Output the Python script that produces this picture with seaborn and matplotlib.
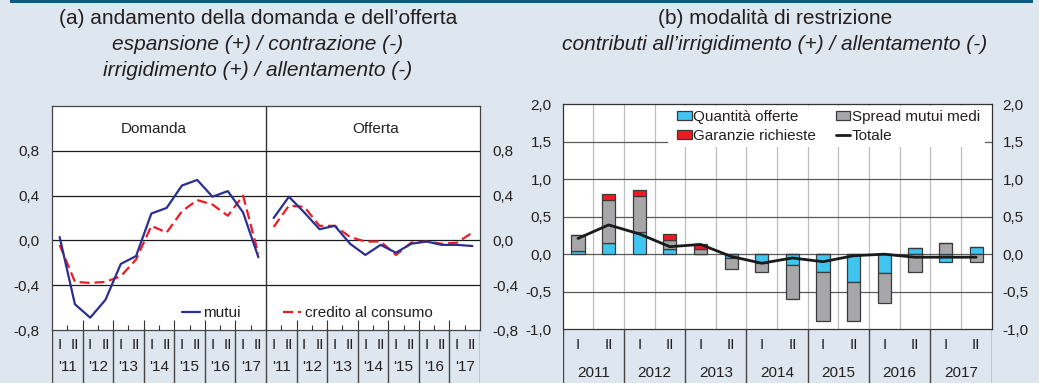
import numpy as np
import pandas as pd
import matplotlib
matplotlib.use("Agg")
import matplotlib.pyplot as plt
from matplotlib.patches import Rectangle, Patch
from matplotlib.lines import Line2D
import seaborn as sns

# ---- panel (a): demand and supply, half-yearly 2011-2017 ----
anni_brevi = ["'11", "'12", "'13", "'14", "'15", "'16", "'17"]
semestri = ["I", "II"]
domanda_mutui = [0.03, -0.57, -0.69, -0.53, -0.21, -0.14, 0.24, 0.29, 0.49, 0.54, 0.39, 0.44, 0.25, -0.15]
domanda_credito = [-0.04, -0.37, -0.38, -0.37, -0.32, -0.17, 0.13, 0.07, 0.26, 0.36, 0.32, 0.22, 0.40, -0.12]
offerta_mutui = [0.20, 0.39, 0.25, 0.10, 0.13, -0.03, -0.13, -0.04, -0.11, -0.03, -0.01, -0.04, -0.04, -0.05]
offerta_credito = [0.12, 0.31, 0.30, 0.13, 0.13, 0.03, -0.01, -0.01, -0.13, -0.02, -0.01, -0.03, -0.02, 0.07]
yticks_a = [-0.8, -0.4, 0.0, 0.4, 0.8]

# ---- panel (b): contributions to tightening / easing ----
anni = ["2011", "2012", "2013", "2014", "2015", "2016", "2017"]
quantita_offerte = [0.04, 0.15, 0.29, 0.07, 0.0, -0.05, -0.115, -0.145, -0.235, -0.375, -0.25, 0.085, -0.105, 0.10]
spread_mutui = [0.21, 0.57, 0.48, 0.125, 0.075, -0.15, -0.12, -0.455, -0.655, -0.515, -0.395, -0.235, 0.155, -0.105]
garanzie_richieste = [0.0, 0.08, 0.09, 0.08, 0.055, 0.0, 0.0, 0.0, 0.0, 0.0, 0.0, 0.0, 0.0, 0.0]
totale = [0.21, 0.39, 0.27, 0.10, 0.13, -0.03, -0.12, -0.05, -0.10, -0.02, 0.0, -0.04, -0.04, -0.04]
yticks_b = [-1.0, -0.5, 0.0, 0.5, 1.0, 1.5, 2.0]

BG = "#dee7f0"
TXT = "#231f20"
BLU = "#2b2f8f"
ROSSO = "#ed1c24"
CIANO = "#40c4f0"
GRIGIO = "#a7a7a9"
BORDO = "#3a3a3a"

sns.set_theme(style="white")
plt.rcParams["font.family"] = ["Liberation Sans", "DejaVu Sans"]
plt.rcParams["text.color"] = TXT
plt.rcParams["xtick.color"] = TXT
plt.rcParams["ytick.color"] = TXT

W, H = 1039, 383
fig = plt.figure(figsize=(W / 100, H / 100), dpi=100, facecolor=BG)


def fx(px):
    return px / W


def fy(py):
    return 1 - py / H


def comma(v):
    return f"{v:.1f}".replace(".", ",")


# top rule
fig.add_artist(Rectangle((fx(10), fy(2.5)), fx(1023), 2.5 / H, transform=fig.transFigure,
                         facecolor="#0b5c80", edgecolor="none"))

# titles
fig.text(fx(258), fy(18), "(a) andamento della domanda e dell\u2019offerta", ha="center", va="center", fontsize=15)
fig.text(fx(258), fy(44), "espansione (+) / contrazione (-)", ha="center", va="center", fontsize=15, style="italic")
fig.text(fx(258), fy(70), "irrigidimento (+) / allentamento (-)", ha="center", va="center", fontsize=15, style="italic")
fig.text(fx(775), fy(18), "(b) modalit\u00e0 di restrizione", ha="center", va="center", fontsize=15)
fig.text(fx(775), fy(44), "contributi all\u2019irrigidimento (+) / allentamento (-)", ha="center", va="center",
         fontsize=15, style="italic")

# ================= panel (a) =================
n = len(domanda_mutui)
axa = fig.add_axes([fx(52), fy(330), fx(428), 224 / H])
axa.set_facecolor("white")
xa = np.arange(2 * n)
df_a = pd.DataFrame({
    "x": xa,
    "mutui": domanda_mutui + offerta_mutui,
    "credito": domanda_credito + offerta_credito,
})
for y in yticks_a[1:]:
    axa.axhline(y, color="#1a1a1a", lw=0.9, zorder=1)
axa.axvline(n - 0.5, color="#333333", lw=1.0, zorder=1)
for part in (df_a.iloc[:n], df_a.iloc[n:]):
    sns.lineplot(data=part, x="x", y="credito", ax=axa, color=ROSSO, linewidth=1.6,
                 linestyle=(0, (4.5, 2.2)), zorder=3)
    sns.lineplot(data=part, x="x", y="mutui", ax=axa, color=BLU, linewidth=1.6, zorder=4)
axa.set_xlim(-0.5, 2 * n - 0.5)
axa.set_ylim(-0.8, 1.2)
axa.set_xlabel("")
axa.set_ylabel("")
axa.set_xticks(np.arange(1.5, 2 * n - 1, 2))
axa.set_xticks(np.arange(0.5, 2 * n, 2), minor=True)
axa.tick_params(axis="x", which="major", direction="in", length=7, width=0.8, color="#333333",
                labelbottom=False, bottom=True)
axa.tick_params(axis="x", which="minor", direction="in", length=3.5, width=0.8, color="#333333", bottom=True)
axa.set_yticks(yticks_a)
axa.set_yticklabels([comma(v) for v in yticks_a])
axa.tick_params(axis="y", length=0, labelsize=11, pad=9, labelright=True, right=False)
for lab in axa.get_yticklabels(which="both"):
    pass
axa.yaxis.set_tick_params(which="major", pad=9)
for s in axa.spines.values():
    s.set_color("#444444")
    s.set_linewidth(0.9)
# right side labels a little closer
for t in axa.yaxis.get_major_ticks():
    t.label2.set_x(1.0)
axa.yaxis.set_tick_params(pad=9)

axa.text(0.238, 0.897, "Domanda", transform=axa.transAxes, ha="center", va="center", fontsize=11)
axa.text(0.755, 0.897, "Offerta", transform=axa.transAxes, ha="center", va="center", fontsize=11)

leg1 = axa.legend(handles=[Line2D([], [], color=BLU, lw=1.6)], labels=["mutui"],
                  loc="center left", bbox_to_anchor=((182 - 52) / 428, (330 - 313) / 224),
                  frameon=False, fontsize=11, handlelength=1.2, handletextpad=0.15,
                  borderpad=0, borderaxespad=0)
axa.add_artist(leg1)
axa.legend(handles=[Line2D([], [], color=ROSSO, lw=1.6, linestyle=(0, (4.5, 2.2)))],
           labels=["credito al consumo"],
           loc="center left", bbox_to_anchor=((283 - 52) / 428, (330 - 313) / 224),
           frameon=False, fontsize=11, handlelength=1.2, handletextpad=0.25,
           borderpad=0, borderaxespad=0)

# labels under panel (a)
axla = fig.add_axes([fx(52), 0, fx(428), 53 / H])
axla.set_xlim(-0.5, 2 * n - 0.5)
axla.set_ylim(0, 1)
axla.axis("off")
axla.vlines(np.arange(-0.5, 2 * n, 2), 0, 1, color="#444444", lw=1.0)
for k in range(2 * n):
    axla.text(k, 0.717, semestri[k % 2], ha="center", va="center", fontsize=11)
for k in range(n):
    axla.text(2 * k + 0.5, 0.30, anni_brevi[k % len(anni_brevi)], ha="center", va="center", fontsize=11)

# ================= panel (b) =================
axb = fig.add_axes([fx(562.7), fy(329.3), fx(428.8), 225.3 / H])
axb.set_facecolor("white")
xb = np.arange(len(totale))
for y in yticks_b[1:-1]:
    axb.axhline(y, color="#5a5a5a", lw=0.9, zorder=0.6)
for x in np.arange(0.5, len(totale) - 1, 1):
    axb.axvline(x, color="#bdbdbd", lw=0.9, zorder=0.5)
# white box behind the legend
axb.add_patch(Rectangle((0.2456, 0.809), 0.739, 0.182, transform=axb.transAxes,
                        facecolor="white", edgecolor="none", zorder=1))

serie = [(quantita_offerte, CIANO), (spread_mutui, GRIGIO), (garanzie_richieste, ROSSO)]
pos = np.zeros(len(totale))
neg = np.zeros(len(totale))
for vals, col in serie:
    v = np.asarray(vals)
    base = np.where(v >= 0, pos, neg)
    axb.bar(xb, v, bottom=base, width=0.43, color=col, edgecolor=BORDO, linewidth=0.9, zorder=2)
    pos = pos + np.clip(v, 0, None)
    neg = neg + np.clip(v, None, 0)
df_b = pd.DataFrame({"x": xb, "totale": totale})
sns.lineplot(data=df_b, x="x", y="totale", ax=axb, color="#1a1a1a", linewidth=2.0, zorder=3)
axb.set_xlabel("")
axb.set_ylabel("")
axb.set_xlim(-0.5, len(totale) - 0.5)
axb.set_ylim(-1.0, 2.0)
axb.set_xticks([])
axb.set_yticks(yticks_b)
axb.set_yticklabels([comma(v) for v in yticks_b])
axb.tick_params(axis="y", length=0, labelsize=11, pad=8, labelright=True, right=False)
for s in axb.spines.values():
    s.set_color("#333333")
    s.set_linewidth(0.9)

handles = [Patch(facecolor=CIANO, edgecolor=BORDO, lw=0.9),
           Patch(facecolor=ROSSO, edgecolor=BORDO, lw=0.9),
           Patch(facecolor=GRIGIO, edgecolor=BORDO, lw=0.9),
           Line2D([], [], color="#1a1a1a", lw=2.0)]
labels = ["Quantit\u00e0 offerte", "Garanzie richieste", "Spread mutui medi", "Totale"]
axb.legend(handles=handles, labels=labels, ncol=2, loc="upper left",
           bbox_to_anchor=((677 - 562.7) / 428.8, (329.3 - 110) / 225.3),
           frameon=False, fontsize=11, handlelength=0.95, handleheight=0.55,
           handletextpad=0.1, columnspacing=1.3, labelspacing=0.3,
           borderpad=0, borderaxespad=0)

# labels under panel (b)
axlb = fig.add_axes([fx(562.7), 0, fx(428.8), 53.7 / H])
axlb.set_xlim(-0.5, len(totale) - 0.5)
axlb.set_ylim(0, 1)
axlb.axis("off")
axlb.vlines(np.arange(-0.5, len(totale), 2), 0, 1, color="#444444", lw=1.0)
for k in range(len(totale)):
    axlb.text(k, 0.708, semestri[k % 2], ha="center", va="center", fontsize=11)
for k, a in enumerate(anni):
    axlb.text(2 * k + 0.5, 0.18, a, ha="center", va="center", fontsize=11)

fig.savefig("out.png", dpi=100, facecolor=BG)
